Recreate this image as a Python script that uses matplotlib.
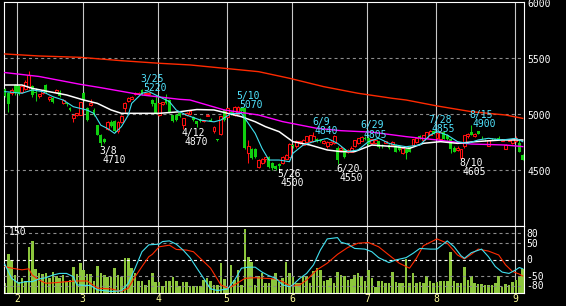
import numpy as np
import pandas as pd
import matplotlib
matplotlib.use('Agg')
import matplotlib.pyplot as plt

plt.rcParams['lines.scale_dashes'] = False
plt.rcParams['font.family'] = ['DejaVu Sans Mono']

# trading days (Tokyo), late Jan .. early Sep
holidays = ['2005-02-11', '2005-03-21', '2005-04-29', '2005-05-03',
            '2005-05-04', '2005-05-05', '2005-07-18']
days = pd.bdate_range('2005-01-26', '2005-09-05')
days = days[~days.isin(pd.to_datetime(holidays))]

opens = [5220, 5190, 5185, 5260, 5250, 5200, 5220, 5240, 5250, 5200, 5160, 5190, 5260,
         5130, 5140, 5200, 5200, 5100, 5095, 5050, 4960, 4990, 4995,
         5190, 5050, 5080, 5040, 4900, 4810, 4780, 4870, 4930, 4940, 4845, 4930,
         5050, 5120, 5135, 5180, 5180, 5215, 5180, 5180, 5125, 5100, 4990,
         5090, 5150, 5125, 4990, 4990, 5005, 4900, 4990, 5000, 4975, 4935,
         4950, 4935, 4985, 4950, 4845, 4775, 4820, 5040, 4975, 5015, 4990, 5020, 5050,
         5050, 4650, 4685, 4690, 4530, 4560, 4600, 4620, 4560, 4535, 4555,
         4560, 4600, 4620, 4725, 4710, 4740, 4725, 4750, 4760, 4760, 4775, 4770, 4740,
         4710, 4730, 4740, 4700, 4680, 4690, 4660, 4665, 4715, 4740, 4760, 4790, 4790,
         4740, 4745, 4755, 4725, 4745, 4725, 4720, 4720, 4715, 4650, 4685, 4705, 4720,
         4750, 4800, 4770, 4790, 4815, 4850, 4790, 4780, 4835, 4815, 4780, 4700, 4675,
         4610, 4710, 4800, 4840, 4800, 4845, 4790, 4770, 4715, 4780, 4775, 4790, 4760,
         4690, 4760, 4740, 4755, 4740, 4635]
highs = [5235, 5200, 5230, 5265, 5260, 5260, 5300, 5385, 5260, 5230, 5180, 5220, 5270,
         5160, 5150, 5225, 5210, 5135, 5100, 5060, 4995, 5010, 5110,
         5195, 5060, 5130, 5050, 4905, 4820, 4790, 4935, 4945, 4950, 4940, 4990,
         5110, 5150, 5160, 5195, 5200, 5220, 5200, 5200, 5130, 5165, 5100,
         5110, 5180, 5130, 4995, 5000, 5010, 4965, 5020, 5035, 4985, 4940,
         4960, 4950, 5000, 4960, 4890, 4780, 4985, 5045, 5055, 5030, 5070, 5070, 5060,
         5060, 4770, 4700, 4700, 4600, 4610, 4620, 4625, 4575, 4545, 4565,
         4625, 4640, 4740, 4735, 4770, 4760, 4775, 4805, 4815, 4840, 4790, 4780, 4765,
         4755, 4755, 4810, 4710, 4710, 4700, 4690, 4710, 4770, 4790, 4805, 4800, 4800,
         4780, 4770, 4760, 4735, 4760, 4730, 4760, 4730, 4720, 4705, 4695, 4715, 4780,
         4790, 4810, 4815, 4840, 4855, 4855, 4840, 4845, 4840, 4820, 4790, 4710, 4710,
         4690, 4815, 4830, 4900, 4830, 4850, 4800, 4780, 4770, 4790, 4790, 4800, 4780,
         4730, 4775, 4790, 4800, 4775, 4640]
lows = [5150, 5020, 5170, 5170, 5170, 5190, 5210, 5220, 5150, 5120, 5140, 5180, 5190,
        5120, 5100, 5190, 5150, 5090, 5075, 5030, 4930, 4980, 4990,
        5120, 4940, 5070, 4980, 4810, 4710, 4740, 4860, 4880, 4840, 4830, 4920,
        5020, 5110, 5130, 5170, 5175, 5170, 5175, 5170, 5075, 5000, 4985,
        5080, 5090, 5010, 4925, 4940, 4975, 4870, 4985, 4990, 4940, 4880,
        4930, 4925, 4980, 4935, 4830, 4755, 4815, 4940, 4970, 4990, 4985, 5000, 5020,
        4690, 4560, 4600, 4610, 4520, 4550, 4570, 4520, 4500, 4500, 4500,
        4550, 4595, 4615, 4700, 4700, 4730, 4720, 4740, 4750, 4750, 4750, 4750, 4730,
        4700, 4720, 4735, 4550, 4670, 4610, 4650, 4660, 4705, 4730, 4755, 4770, 4710,
        4735, 4740, 4700, 4700, 4740, 4690, 4715, 4660, 4670, 4640, 4600, 4660, 4715,
        4745, 4780, 4765, 4785, 4810, 4820, 4780, 4770, 4775, 4770, 4650, 4660, 4670,
        4605, 4700, 4790, 4810, 4795, 4820, 4780, 4760, 4710, 4770, 4765, 4770, 4755,
        4685, 4755, 4735, 4750, 4660, 4585]
closes = [5165, 5090, 5210, 5190, 5180, 5250, 5290, 5345, 5170, 5185, 5175, 5210, 5200,
          5150, 5110, 5215, 5165, 5125, 5085, 5040, 4990, 5005, 5105,
          5125, 4950, 5100, 4990, 4815, 4740, 4750, 4930, 4890, 4850, 4930, 4980,
          5100, 5145, 5155, 5188, 5190, 5180, 5190, 5190, 5085, 5010, 5095,
          5105, 5095, 5020, 4935, 4950, 4980, 4960, 5010, 5025, 4945, 4915,
          4935, 4945, 4995, 4940, 4885, 4765, 4980, 4950, 5050, 5000, 5065, 5060, 5030,
          4695, 4710, 4605, 4615, 4590, 4595, 4615, 4530, 4515, 4510, 4540,
          4620, 4635, 4735, 4710, 4760, 4755, 4770, 4800, 4810, 4800, 4760, 4760, 4760,
          4750, 4750, 4800, 4590, 4700, 4620, 4680, 4700, 4765, 4785, 4795, 4780, 4730,
          4775, 4765, 4705, 4710, 4755, 4700, 4750, 4665, 4680, 4700, 4650, 4665, 4775,
          4785, 4785, 4810, 4835, 4845, 4825, 4830, 4840, 4780, 4775, 4685, 4665, 4700,
          4685, 4810, 4820, 4815, 4825, 4825, 4785, 4765, 4765, 4775, 4770, 4775, 4770,
          4720, 4770, 4780, 4790, 4665, 4590]
volume = [24, 93, 78, 44, 28, 36, 30, 111, 124, 58, 48, 45, 48,
          36, 51, 40, 36, 44, 28, 32, 63, 45, 73,
          55, 45, 45, 30, 65,
          49, 44, 38, 38, 59, 44, 38, 83, 83, 59,
          48, 30, 30, 20, 32, 48, 28, 28, 17, 30,
          30, 38, 30, 17, 28, 28, 17, 17, 17, 17,
          32, 36, 30, 20, 20, 71, 33, 12, 67, 32,
          55, 20, 152, 86, 75, 20, 41, 49, 25, 25,
          33, 49, 28, 36, 75, 49, 40, 25,
          24, 41, 40, 24, 53, 59, 55, 29, 32, 36, 24, 50, 44, 40, 32, 34, 44, 48, 40, 29,
          55, 36, 16, 29, 29, 24, 24, 51, 28, 24, 24, 81, 24, 48, 24, 28, 24, 40, 29, 24,
          28, 29, 29, 29, 97, 29, 24, 24, 63, 32, 40, 24, 21, 21, 20, 20, 20, 24, 40, 16,
          21, 20, 28, 32, 40, 58]

# moving averages (day index, price)
ma_short_days = [0, 5, 8, 11, 14, 17, 20, 22, 24, 26, 28, 30, 32, 34, 36, 37, 40, 42, 45, 48,
                 50, 53, 57, 61, 63, 66, 69, 70, 73, 75, 77, 80, 83, 84, 87, 90, 94, 97, 100, 103,
                 106, 109, 112, 114, 117, 121, 124, 126, 129, 132, 135, 138, 141, 145, 149, 151]
ma_short = [5200, 5185, 5215, 5200, 5155, 5125, 5065, 5050, 5035, 5005, 4900, 4870, 4827, 4887,
            4990, 5095, 5185, 5200, 5155, 5110, 5035, 4990, 4946, 4930, 4946, 5005, 5005, 4961,
            4827, 4693, 4589, 4589, 4574, 4649, 4723, 4753, 4783, 4738, 4664, 4679, 4753, 4783,
            4738, 4723, 4708, 4723, 4812, 4842, 4812, 4753, 4738, 4768, 4783, 4768, 4783, 4753]
ma_mid_days = [0, 5, 8, 13, 18, 23, 27, 31, 34, 38, 45, 51, 56, 61, 65, 69, 73, 76, 80, 84,
               89, 94, 98, 102, 107, 114, 118, 122, 127, 132, 137, 145, 151]
ma_mid = [5259, 5259, 5229, 5199, 5170, 5125, 5095, 5036, 5006, 5006, 5006, 5020, 5040, 5036,
          5006, 4976, 4931, 4887, 4842, 4753, 4723, 4679, 4664, 4664, 4723, 4708, 4693, 4738,
          4753, 4738, 4753, 4768, 4768]
ma_long_days = [0, 10, 22, 28, 40, 51, 54, 64, 74, 81, 91, 98, 107, 117, 126, 136, 146, 151]
ma_long = [5370, 5335, 5265, 5235, 5170, 5131, 5125, 5036, 4991, 4932, 4872, 4851, 4838, 4798,
           4768, 4732, 4723, 4709]
ma_year_days = [0, 10, 22, 34, 45, 54, 64, 74, 83, 93, 103, 113, 117, 126, 136, 146, 151]
ma_year = [5536, 5518, 5506, 5476, 5453, 5438, 5408, 5378, 5319, 5244, 5185, 5140, 5125, 5072,
           5021, 4991, 4961]

# oscillators in the lower panel
osc_c_days = [0, 2, 4, 6, 8, 10, 12, 14, 16, 18, 20, 21, 25, 27, 31, 34, 36, 38, 40, 42,
              45, 46, 48, 50, 52, 54, 56, 58, 60, 62, 65, 67, 69, 71, 73, 75, 77, 79, 81, 83,
              84, 86, 88, 90, 92, 94, 97, 98, 100, 102, 105, 107, 109, 112, 114, 117, 119, 121,
              124, 126, 129, 131, 133, 134, 136, 139, 141, 143, 145, 147, 149, 150, 151]
osc_c = [-14, -57, -72, -67, -67, -59, -55, -47, -42, -42, -52, -77, -79, -92, -97, -95, -72,
         -26, 24, 45, 47, 55, 57, 47, 29, 6, -26, -57, -89, -94, -89, -62, -26, -23, -23, -38,
         -49, -57, -77, -82, -77, -57, -42, -16, 29, 63, 67, 53, 47, 34, 32, 24, 6, -9, -1, 6,
         19, 34, 32, 32, 57, 39, 12, 4, 21, 32, 9, -21, -38, -42, -31, -24, -28]
osc_r_days = [0, 2, 5, 7, 8, 10, 12, 15, 18, 21, 24, 27, 31, 34, 36, 38, 40, 42, 43, 45,
              48, 50, 53, 55, 57, 60, 63, 65, 67, 70, 73, 76, 79, 81, 83, 86, 88, 91, 94, 97,
              100, 103, 106, 109, 112, 115, 118, 120, 122, 126, 129, 132, 134, 136, 138, 141,
              144, 146, 148, 150, 151]
osc_r = [-21, -26, -31, -28, -47, -62, -72, -70, -67, -65, -65, -87, -89, -97, -87, -52, -21,
         9, 16, 39, 44, 31, 29, 24, 4, -26, -77, -87, -77, -57, -55, -57, -59, -67, -79, -77,
         -62, -31, -11, 16, 37, 50, 52, 39, 14, -11, -26, 4, 42, 63, 50, 14, 2, 16, 32, 26, 14,
         -16, -36, -44, -50]

highs_marked = [('2005-03-25', 5220), ('2005-05-10', 5070), ('2005-06-09', 4840),
                ('2005-06-29', 4805), ('2005-07-28', 4855), ('2005-08-15', 4900)]
lows_marked = [('2005-03-08', 4710), ('2005-04-12', 4870), ('2005-05-26', 4500),
               ('2005-06-20', 4550), ('2005-08-10', 4605)]

price_ticks = [6000, 5500, 5000, 4500]
osc_ticks = [80, 50, 0, -50, -80]

RED = '#ff1010'
GREEN = '#10d010'
CYAN = '#40e0f0'
LABEL_CYAN = '#50e4ff'

o = np.array(opens); h = np.array(highs); l = np.array(lows); c = np.array(closes)
x = np.arange(len(c))
day_pos = {d.strftime('%Y-%m-%d'): i for i, d in enumerate(days)}
month_starts = [i for i in range(1, len(days)) if days[i].month != days[i - 1].month]

W, H = 566, 306
fig = plt.figure(figsize=(W / 100, H / 100), dpi=100, facecolor='black')
ax = fig.add_axes([4 / W, 1 - 226 / H, 520 / W, 224 / H])
axv = fig.add_axes([4 / W, 1 - 293.3 / H, 520 / W, 67.3 / H])
axo = axv.twinx()

xlim = (-0.23, 151.37)
for a in (ax, axv, axo):
    a.set_xlim(*xlim)
    a.set_xticks([])
    a.set_yticks([])
    a.set_facecolor('black')
axo.patch.set_visible(False)
for a in (ax, axv):
    for s in a.spines.values():
        s.set_color('white')
        s.set_linewidth(0.8)
for s in axo.spines.values():
    s.set_visible(False)

ax.set_ylim(4000, 6000)
axv.set_ylim(0, 160)
axo.set_ylim(-102.5, 102.3)

dash = (0, (2.2, 2.2))
for v in [5500, 5000, 4500]:
    ax.axhline(v, color='#8c8c8c', lw=0.8, linestyle=dash, zorder=1)
for v in osc_ticks:
    axo.axhline(v, color='white' if v == 0 else '#8c8c8c', lw=0.8, linestyle=dash, zorder=1)
for m in month_starts:
    ax.axvline(m - 0.3, color='#c8c8c8', lw=0.8, zorder=1)
    axv.axvline(m - 0.3, color='#c8c8c8', lw=0.8, zorder=1)

# candles: hollow red up, filled green down
up = c > o
ax.vlines(x, l, h, colors=np.where(up, RED, GREEN), lw=0.75, zorder=3)
ax.bar(x[up], c[up] - o[up], bottom=o[up], width=0.85, facecolor='black',
       edgecolor=RED, lw=0.75, zorder=4)
ax.bar(x[~up], o[~up] - c[~up], bottom=c[~up], width=0.85, color=GREEN, lw=0, zorder=4)

ax.plot(ma_year_days, ma_year, color='#ff2a00', lw=1.0, zorder=5)
ax.plot(ma_long_days, ma_long, color='#ff00ff', lw=1.0, zorder=5)
ax.plot(ma_mid_days, ma_mid, color='white', lw=1.1, zorder=5)
ax.plot(ma_short_days, ma_short, color=CYAN, lw=0.8, zorder=5)

txt = dict(fontsize=7, textcoords='offset pixels', va='baseline', ha='left',
           annotation_clip=False)
for d, v in highs_marked:
    i = day_pos[d]
    ax.annotate('%d/%d' % (int(d[5:7]), int(d[8:])), (i, v), xytext=(-1.5, 7.4),
                color=LABEL_CYAN, zorder=6, **txt)
    ax.annotate(str(v), (i, v), xytext=(1.5, -1.8), color=LABEL_CYAN, zorder=6, **txt)
for d, v in lows_marked:
    i = day_pos[d]
    ax.annotate('%d/%d' % (int(d[5:7]), int(d[8:])), (i, v), xytext=(-1.5, -7.5),
                color='white', zorder=6, **txt)
    ax.annotate(str(v), (i, v), xytext=(1.5, -16.5), color='white', zorder=6, **txt)

for v in price_ticks:
    ax.annotate(str(v), (1, v), xycoords=('axes fraction', 'data'), xytext=(3, -5),
                color='white', **txt)

# lower panel: volume + oscillators
axv.bar(x, volume, width=0.75, color='#8cc63c', lw=0, zorder=2)
axo.plot(osc_r_days, osc_r, color='#ff2a00', lw=0.8, zorder=3)
axo.plot(osc_c_days, osc_c, color=CYAN, lw=0.8, zorder=3)
for v in osc_ticks:
    axo.annotate(str(v), (1, v), xycoords=('axes fraction', 'data'), xytext=(2.5, -3.5),
                 color='white', **txt)
axv.annotate('150', (0, 1), xycoords='axes fraction', xytext=(5, -9), color='white', **txt)
for m in month_starts:
    axv.annotate(str(days[m].month), (m - 0.3, 0), xycoords=('data', 'axes fraction'),
                 xytext=(0, -8.5), color='#ffff99', fontsize=7, textcoords='offset pixels',
                 va='baseline', ha='center', annotation_clip=False)

fig.savefig('out.png', dpi=100, facecolor='black')
